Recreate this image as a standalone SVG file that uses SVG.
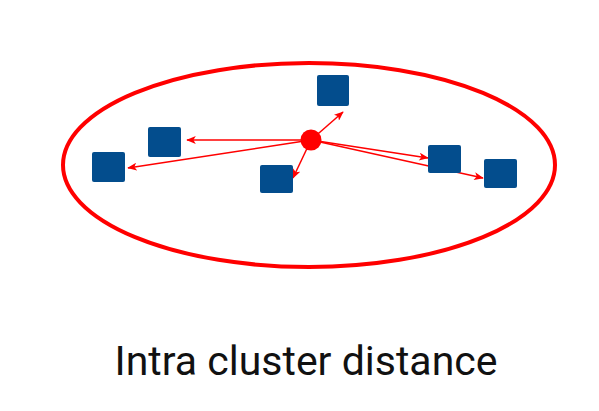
<svg xmlns="http://www.w3.org/2000/svg" width="599" height="411" viewBox="0 0 599 411">
<style>
.pt{fill:#034d8d;}
.ar{stroke:#ff0000;stroke-width:1.5;fill:none;marker-end:url(#ah);}
.lbl{font-family:Roboto,"Liberation Sans",sans-serif;font-size:41px;fill:#111;}
</style>
<defs>
<marker id="ah" viewBox="0 0 12 10" refX="11" refY="5" markerWidth="10" markerHeight="8" markerUnits="userSpaceOnUse" orient="auto">
<path d="M0,0 L12,5 L0,10 L3,5 Z" fill="#ff0000"/>
</marker>
</defs>
<rect width="599" height="411" fill="#fff"/>
<g id="cluster">
<ellipse cx="309" cy="165" rx="246" ry="102" fill="none" stroke="#ff0000" stroke-width="4"/>
</g>
<g id="connectors">
<line class="ar" x1="311" y1="140" x2="187" y2="140"/>
<line class="ar" x1="311" y1="140" x2="128" y2="168"/>
<line class="ar" x1="311" y1="140" x2="293" y2="178"/>
<line class="ar" x1="311" y1="140" x2="343" y2="112"/>
<line class="ar" x1="311" y1="140" x2="428" y2="158"/>
<line class="ar" x1="311" y1="140" x2="483" y2="178"/>
</g>
<g id="centroid"><circle cx="311" cy="140" r="10.5" fill="#ff0000"/></g>
<g id="p1"><rect class="pt" x="148" y="127" width="33" height="30" rx="2"/></g>
<g id="p2"><rect class="pt" x="92" y="152" width="33" height="30" rx="2"/></g>
<g id="p3"><rect class="pt" x="260" y="165" width="33" height="28" rx="2"/></g>
<g id="p4"><rect class="pt" x="317" y="75" width="32" height="31" rx="2"/></g>
<g id="p5"><rect class="pt" x="428" y="145" width="33" height="28" rx="2"/></g>
<g id="p6"><rect class="pt" x="484" y="159" width="33" height="29" rx="2"/></g>
<g id="label"><text class="lbl" x="306" y="375" text-anchor="middle">Intra cluster distance</text></g>
</svg>
